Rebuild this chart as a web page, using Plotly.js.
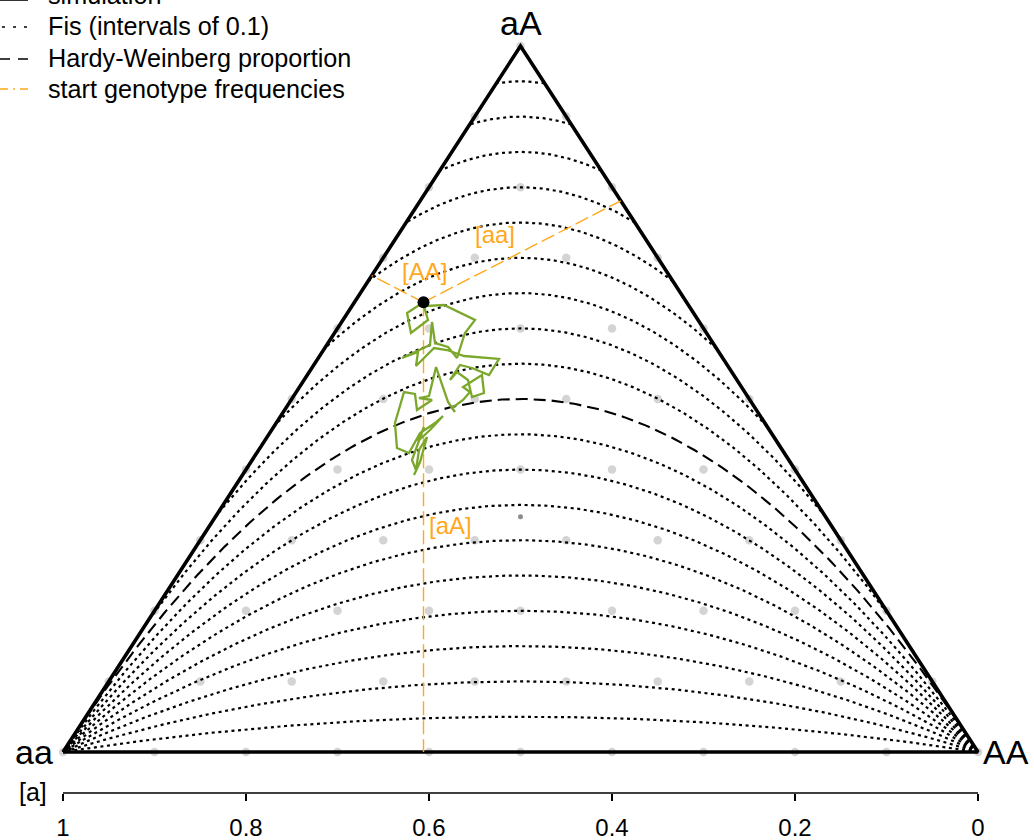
<!DOCTYPE html>
<html><head><meta charset="utf-8">
<script src="https://cdn.plot.ly/plotly-3.0.1.min.js"></script>
<style>html,body{margin:0;padding:0;background:#fff;}#chart{width:1034px;height:840px;}</style>
</head><body><div id="chart"></div>
<script>
// ---- data ----
const vertexLabels = ['aa', 'aA', 'AA'];
const fisLevels = [-0.9, -0.8, -0.7, -0.6, -0.5, -0.4, -0.3, -0.2, -0.1, 0.1, 0.2, 0.3, 0.4, 0.5, 0.6, 0.7, 0.8, 0.9];
const hwLevel = [0];
const gridSteps = [0, 0.1, 0.2, 0.3, 0.4, 0.5, 0.6, 0.7, 0.8, 0.9, 1];
const centroid = [1 / 3, 1 / 3, 1 / 3]; // AA, aA, aa
const startAA = [0.0755];
const startAa = [0.637];
const startaa = [0.2875];
// simulation trajectory: allele frequency [a] and heterozygote frequency [aA]
const simA = [0.6060, 0.6240, 0.6197, 0.6011, 0.6055, 0.5836, 0.5497, 0.5607, 0.5694, 0.5792, 0.5934, 0.5967, 0.5989, 0.6175, 0.6295, 0.6120, 0.6142, 0.5945, 0.5803, 0.5617, 0.5235, 0.5344, 0.5530, 0.5661, 0.5770, 0.5694, 0.5574, 0.5530, 0.5399, 0.5421, 0.5628, 0.5552, 0.5628, 0.5749, 0.5716, 0.5792, 0.5923, 0.6000, 0.6109, 0.5967, 0.6131, 0.6153, 0.6273, 0.6372, 0.6350, 0.6219, 0.6098, 0.5934, 0.5847, 0.5989, 0.6120, 0.6055, 0.6186, 0.6142, 0.6109, 0.6022, 0.6098, 0.6164];
const simHet = [0.6370, 0.6218, 0.5935, 0.6119, 0.6317, 0.6331, 0.6119, 0.5935, 0.5581, 0.5737, 0.5793, 0.6091, 0.5765, 0.5652, 0.5581, 0.5666, 0.5467, 0.5722, 0.5694, 0.5609, 0.5567, 0.5340, 0.5439, 0.5482, 0.5269, 0.5382, 0.5269, 0.5028, 0.5085, 0.5340, 0.5170, 0.5099, 0.4986, 0.4873, 0.4816, 0.4958, 0.5453, 0.5042, 0.5014, 0.4986, 0.4844, 0.5071, 0.5099, 0.4660, 0.4306, 0.4235, 0.4518, 0.4660, 0.4759, 0.4561, 0.4405, 0.4603, 0.4136, 0.3994, 0.4278, 0.4462, 0.4108, 0.3924];
const axisTicks = [0, 0.2, 0.4, 0.6, 0.8, 1];
const axisTickText = ['0', '0.2', '0.4', '0.6', '0.8', '1'];
const axisLabel = '[a]';
const legendLabels = ['simulation', 'Fis (intervals of 0.1)', 'Hardy-Weinberg proportion', 'start genotype frequencies'];
const distLabels = ['[AA]', '[aa]', '[aA]'];

// ---- styles ----
const FONT = 'Liberation Sans, Arial, Helvetica, sans-serif';
const GREEN = '#7BA82C';
const ORANGE = '#FFA81A';

// helpers: genotype (AA, aA, aa) -> plot coords (x = [a], y = [aA])
function toXY(AA, Aa, aa) { return [aa + Aa / 2, Aa]; }

const traces = [];

// grid points (under the triangle)
const gx = [], gy = [];
gridSteps.forEach(h => {
  gridSteps.forEach(a => {
    if (a + h <= 1.0000001) {
      const p = toXY(1 - a - h, h, a);
      gx.push(p[0]); gy.push(p[1]);
    }
  });
});
traces.push({x: gx, y: gy, mode: 'markers', marker: {color: '#D4D4D4', size: 8.5}, cliponaxis: false, hoverinfo: 'skip', showlegend: false});
const cc = toXY(centroid[0], centroid[1], centroid[2]);
traces.push({x: [cc[0]], y: [cc[1]], mode: 'markers', marker: {color: '#8C8C8C', size: 5}, hoverinfo: 'skip', showlegend: false});

// triangle
traces.push({
  x: [toXY(0, 0, 1)[0], toXY(0, 1, 0)[0], toXY(1, 0, 0)[0], toXY(0, 0, 1)[0]],
  y: [toXY(0, 0, 1)[1], toXY(0, 1, 0)[1], toXY(1, 0, 0)[1], toXY(0, 0, 1)[1]],
  mode: 'lines', line: {color: '#000', width: 3.6}, hoverinfo: 'skip', showlegend: false
});

// Fis curves
function fisCurve(F) {
  const pmin = F < 0 ? -F / (1 - F) : 0;
  const n = 300, xs = [], ys = [];
  for (let i = 0; i <= n; i++) {
    const p = pmin + (1 - 2 * pmin) * i / n;
    xs.push(p); ys.push(2 * p * (1 - p) * (1 - F));
  }
  return [xs, ys];
}
fisLevels.forEach(F => {
  const c = fisCurve(F);
  traces.push({x: c[0], y: c[1], mode: 'lines', line: {color: '#000', width: 2.2, dash: '3px,3.6px'}, hoverinfo: 'skip', showlegend: false});
});
hwLevel.forEach(F => {
  const c = fisCurve(F);
  traces.push({x: c[0], y: c[1], mode: 'lines', line: {color: '#000', width: 2.1, dash: '12px,6px'}, hoverinfo: 'skip', showlegend: false});
});

// start genotype distance lines
const s0 = toXY(startAA[0], startAa[0], startaa[0]);
const footAA = toXY(0, startAa[0] + startAA[0] / 2, startaa[0] + startAA[0] / 2);
const footaa = toXY(startAA[0] + startaa[0] / 2, startAa[0] + startaa[0] / 2, 0);
const footAa = toXY(startAA[0] + startAa[0] / 2, 0, startaa[0] + startAa[0] / 2);
[footAA, footaa, footAa].forEach(f => {
  traces.push({x: [s0[0], f[0]], y: [s0[1], f[1]], mode: 'lines', line: {color: ORANGE, width: 1.4, dash: '14px,5px'}, hoverinfo: 'skip', showlegend: false});
});

// simulation
traces.push({x: simA, y: simHet, mode: 'lines', line: {color: GREEN, width: 2.3}, hoverinfo: 'skip', showlegend: false});
// start point
traces.push({x: [s0[0]], y: [s0[1]], mode: 'markers', marker: {color: '#000', size: 12}, hoverinfo: 'skip', showlegend: false});

// ---- layout ----
const W = 1034, H = 840, BOT = 793;
const px = v => v / W, py = v => (BOT - v) / BOT;

const annotations = [
  {x: 1, y: 0, xref: 'x', yref: 'y', text: vertexLabels[0], showarrow: false, xanchor: 'right', yanchor: 'middle', xshift: -8, yshift: 0, font: {family: FONT, size: 34, color: '#000'}},
  {x: 0.5, y: 1, xref: 'x', yref: 'y', text: vertexLabels[1], showarrow: false, xanchor: 'center', yanchor: 'middle', yshift: 23, font: {family: FONT, size: 34, color: '#000'}},
  {x: 0, y: 0, xref: 'x', yref: 'y', text: vertexLabels[2], showarrow: false, xanchor: 'left', yanchor: 'middle', xshift: 3, yshift: 0, font: {family: FONT, size: 34, color: '#000'}},
  {x: 1, y: 0, xref: 'x', yref: 'paper', text: axisLabel, showarrow: false, xanchor: 'right', yanchor: 'middle', xshift: -14, yshift: 1, font: {family: FONT, size: 25, color: '#000'}},
  {x: 0.6044, y: 0.6813, xref: 'x', yref: 'y', text: distLabels[0], showarrow: false, xanchor: 'center', yanchor: 'middle', font: {family: FONT, size: 24, color: ORANGE}},
  {x: 0.5279, y: 0.7329, xref: 'x', yref: 'y', text: distLabels[1], showarrow: false, xanchor: 'center', yanchor: 'middle', font: {family: FONT, size: 24, color: ORANGE}},
  {x: 0.5770, y: 0.3210, xref: 'x', yref: 'y', text: distLabels[2], showarrow: false, xanchor: 'center', yanchor: 'middle', font: {family: FONT, size: 24, color: ORANGE}}
];
const legendRows = [-5, 26, 58, 89];
legendLabels.forEach((t, i) => {
  annotations.push({x: px(46), y: py(legendRows[i]), xref: 'paper', yref: 'paper', text: t, showarrow: false, xanchor: 'left', yanchor: 'middle', font: {family: FONT, size: 25.2, color: '#000'}});
});

const shapes = [
  {type: 'line', xref: 'x', yref: 'paper', x0: 1, x1: 0, y0: 0, y1: 0, line: {color: '#000', width: 1.5}},
  {type: 'line', xref: 'paper', yref: 'paper', x0: px(-10), x1: px(28), y0: py(0), y1: py(0), line: {color: '#333', width: 2}},
  {type: 'line', xref: 'paper', yref: 'paper', x0: px(2), x1: px(28), y0: py(27), y1: py(27), line: {color: '#000', width: 1.5, dash: '3px,8px'}},
  {type: 'line', xref: 'paper', yref: 'paper', x0: px(0), x1: px(28), y0: py(59), y1: py(59), line: {color: '#000', width: 1.5, dash: '10px,8px'}},
  {type: 'line', xref: 'paper', yref: 'paper', x0: px(-6), x1: px(28), y0: py(89), y1: py(89), line: {color: ORANGE, width: 1.5, dash: '14px,5px,2px,5px'}}
];

const layout = {
  width: W, height: H,
  margin: {l: 0, r: 0, t: 0, b: H - BOT, pad: 0},
  paper_bgcolor: '#fff', plot_bgcolor: '#fff',
  showlegend: false,
  xaxis: {
    range: [1.068852, -0.061202], showgrid: false, zeroline: false, showline: false,
    tickvals: axisTicks, ticktext: axisTickText, ticks: 'outside', ticklen: 7, tickwidth: 1.5, tickcolor: '#000',
    tickfont: {family: FONT, size: 24, color: '#000'}, ticklabelstandoff: 6, fixedrange: true
  },
  yaxis: {range: [-0.05807, 1.06516], visible: false, showgrid: false, zeroline: false, fixedrange: true},
  annotations: annotations, shapes: shapes
};

Plotly.newPlot('chart', traces, layout, {displayModeBar: false, staticPlot: true});
</script>
</body></html>
